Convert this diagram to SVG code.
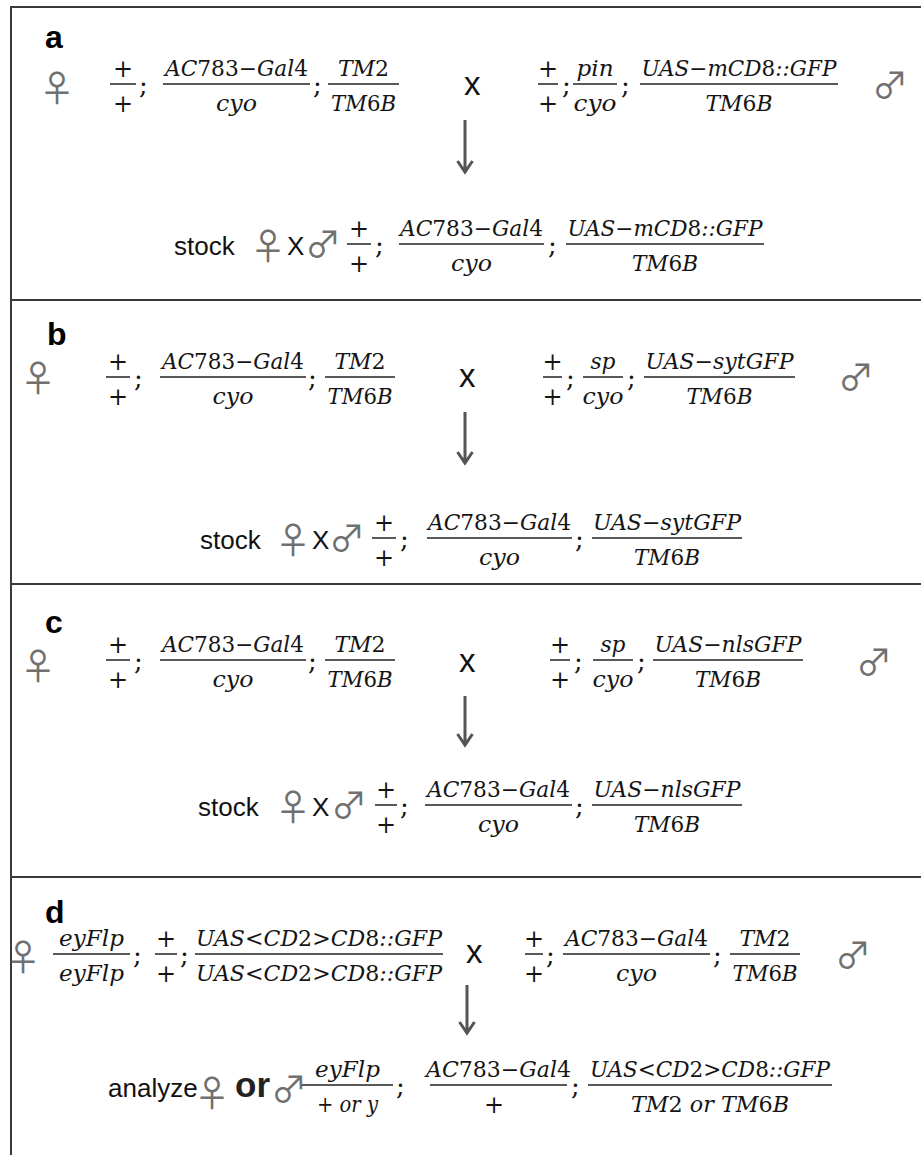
<svg xmlns="http://www.w3.org/2000/svg" width="921" height="1155" viewBox="0 0 921 1155">
<style>
.frame line{stroke:#3a3a3a;stroke-width:2}
.bar{stroke:#222;stroke-width:1.5}
.m{font-family:"DejaVu Serif","Liberation Serif",serif;font-style:italic;font-size:22px;fill:#151515;text-anchor:middle}
.n{font-style:normal}
.p{font-family:"DejaVu Serif","Liberation Serif",serif;font-size:24px;fill:#151515;text-anchor:middle}
.semi{font-family:"DejaVu Serif","Liberation Serif",serif;font-size:26px;fill:#151515}
.s{font-family:"Liberation Sans",Arial,sans-serif;fill:#111}
.x{font-size:33px}
.st{font-size:26px}
.or{font-size:35px;font-weight:bold;fill:#222}
.lbl{font-family:"Liberation Sans",Arial,sans-serif;font-weight:bold;font-size:32px;fill:#000}
.sym{font-family:"Noto Sans CJK JP","DejaVu Sans",sans-serif;font-size:36px;fill:#707070;text-anchor:middle;dominant-baseline:central}
.arr{stroke:#555;stroke-width:3;fill:none}
</style>
<rect width="921" height="1155" fill="#fff"/>
<g class="frame">
<line x1="11" y1="7" x2="921" y2="7"/>
<line x1="11" y1="6" x2="11" y2="1155"/>
<line x1="11" y1="300" x2="921" y2="300"/>
<line x1="11" y1="584" x2="921" y2="584"/>
<line x1="11" y1="877" x2="921" y2="877"/>
</g>

<g id="connectors">
<path class="arr" d="M465 120V171M457.5 161L465 172L472.5 161"/>
<path class="arr" d="M465 412V462M457.5 452L465 463L472.5 452"/>
<path class="arr" d="M465 696V744M457.5 734L465 745L472.5 734"/>
<path class="arr" d="M467 985V1032M459.5 1022L467 1033L474.5 1022"/>
</g>

<!-- Panel a -->
<g id="panel-a">
<text class="lbl" x="45" y="48">a</text>
<g id="a-female">
<text class="sym" x="57" y="86">♀</text>
<line class="bar" x1="110" y1="84" x2="136" y2="84"/>
<text class="p" x="123" y="77">+</text>
<text class="p" x="123" y="112">+</text>
<text class="semi" x="139" y="94">;</text>
<line class="bar" x1="163" y1="84" x2="310" y2="84"/>
<text class="m" x="236.5" y="76" textLength="143" lengthAdjust="spacingAndGlyphs">AC<tspan class="n">783−</tspan>Gal<tspan class="n">4</tspan></text>
<text class="m" x="236.5" y="111" textLength="41" lengthAdjust="spacingAndGlyphs">cyo</text>
<text class="semi" x="313" y="94">;</text>
<line class="bar" x1="328" y1="84" x2="399" y2="84"/>
<text class="m" x="363.5" y="76">TM<tspan class="n">2</tspan></text>
<text class="m" x="363.5" y="111" textLength="65" lengthAdjust="spacingAndGlyphs">TM<tspan class="n">6</tspan>B</text>
</g>
<text id="a-cross" class="s x" x="464" y="95">x</text>
<g id="a-male">
<line class="bar" x1="538" y1="84" x2="558" y2="84"/>
<text class="p" x="548" y="77">+</text>
<text class="p" x="548" y="112">+</text>
<text class="semi" x="562" y="94">;</text>
<line class="bar" x1="573" y1="84" x2="617" y2="84"/>
<text class="m" x="595" y="76" textLength="37" lengthAdjust="spacingAndGlyphs">pin</text>
<text class="m" x="595" y="111" textLength="43" lengthAdjust="spacingAndGlyphs">cyo</text>
<text class="semi" x="621" y="94">;</text>
<line class="bar" x1="640" y1="84" x2="838" y2="84"/>
<text class="m" x="739" y="76" textLength="195" lengthAdjust="spacingAndGlyphs">UAS<tspan class="n">−</tspan>mCD<tspan class="n">8</tspan>::GFP</text>
<text class="m" x="739" y="111" textLength="67" lengthAdjust="spacingAndGlyphs">TM<tspan class="n">6</tspan>B</text>
<text class="sym" x="890" y="83">♂</text>
</g>
<g id="a-progeny">
<text class="s st" x="174" y="255">stock</text>
<text class="sym" x="268" y="244">♀</text>
<text class="s st" x="287" y="255">X</text>
<text class="sym" x="323" y="242">♂</text>
<line class="bar" x1="347" y1="244" x2="371" y2="244"/>
<text class="p" x="359" y="237">+</text>
<text class="p" x="359" y="272">+</text>
<text class="semi" x="375" y="254">;</text>
<line class="bar" x1="399" y1="244" x2="544" y2="244"/>
<text class="m" x="471.5" y="236" textLength="143" lengthAdjust="spacingAndGlyphs">AC<tspan class="n">783−</tspan>Gal<tspan class="n">4</tspan></text>
<text class="m" x="471.5" y="271" textLength="41" lengthAdjust="spacingAndGlyphs">cyo</text>
<text class="semi" x="548" y="254">;</text>
<line class="bar" x1="566" y1="244" x2="764" y2="244"/>
<text class="m" x="665" y="236" textLength="195" lengthAdjust="spacingAndGlyphs">UAS<tspan class="n">−</tspan>mCD<tspan class="n">8</tspan>::GFP</text>
<text class="m" x="665" y="271" textLength="66" lengthAdjust="spacingAndGlyphs">TM<tspan class="n">6</tspan>B</text>
</g>
</g>

<!-- Panel b -->
<g id="panel-b">
<text class="lbl" x="47" y="345">b</text>
<g id="b-female">
<text class="sym" x="38" y="376">♀</text>
<line class="bar" x1="106" y1="377" x2="130" y2="377"/>
<text class="p" x="118" y="370">+</text>
<text class="p" x="118" y="405">+</text>
<text class="semi" x="134" y="387">;</text>
<line class="bar" x1="160" y1="377" x2="306" y2="377"/>
<text class="m" x="233" y="369" textLength="142" lengthAdjust="spacingAndGlyphs">AC<tspan class="n">783−</tspan>Gal<tspan class="n">4</tspan></text>
<text class="m" x="233" y="404" textLength="41" lengthAdjust="spacingAndGlyphs">cyo</text>
<text class="semi" x="308" y="387">;</text>
<line class="bar" x1="325" y1="377" x2="395" y2="377"/>
<text class="m" x="360" y="369">TM<tspan class="n">2</tspan></text>
<text class="m" x="360" y="404" textLength="65" lengthAdjust="spacingAndGlyphs">TM<tspan class="n">6</tspan>B</text>
</g>
<text id="b-cross" class="s x" x="459" y="387">x</text>
<g id="b-male">
<line class="bar" x1="543" y1="377" x2="562" y2="377"/>
<text class="p" x="552.5" y="370">+</text>
<text class="p" x="552.5" y="405">+</text>
<text class="semi" x="566" y="387">;</text>
<line class="bar" x1="583" y1="377" x2="623" y2="377"/>
<text class="m" x="603" y="369" textLength="25" lengthAdjust="spacingAndGlyphs">sp</text>
<text class="m" x="603" y="404" textLength="41" lengthAdjust="spacingAndGlyphs">cyo</text>
<text class="semi" x="627" y="387">;</text>
<line class="bar" x1="644" y1="377" x2="795" y2="377"/>
<text class="m" x="719.5" y="369" textLength="148" lengthAdjust="spacingAndGlyphs">UAS<tspan class="n">−</tspan>sytGFP</text>
<text class="m" x="719.5" y="404" textLength="66" lengthAdjust="spacingAndGlyphs">TM<tspan class="n">6</tspan>B</text>
<text class="sym" x="856" y="375">♂</text>
</g>
<g id="b-progeny">
<text class="s st" x="200" y="549">stock</text>
<text class="sym" x="293" y="538">♀</text>
<text class="s st" x="312" y="549">X</text>
<text class="sym" x="347" y="536">♂</text>
<line class="bar" x1="372" y1="538" x2="396" y2="538"/>
<text class="p" x="384" y="531">+</text>
<text class="p" x="384" y="566">+</text>
<text class="semi" x="400" y="548">;</text>
<line class="bar" x1="427" y1="538" x2="572" y2="538"/>
<text class="m" x="499.5" y="530" textLength="143" lengthAdjust="spacingAndGlyphs">AC<tspan class="n">783−</tspan>Gal<tspan class="n">4</tspan></text>
<text class="m" x="499.5" y="565" textLength="41" lengthAdjust="spacingAndGlyphs">cyo</text>
<text class="semi" x="575" y="548">;</text>
<line class="bar" x1="592" y1="538" x2="742" y2="538"/>
<text class="m" x="667" y="530" textLength="148" lengthAdjust="spacingAndGlyphs">UAS<tspan class="n">−</tspan>sytGFP</text>
<text class="m" x="667" y="565" textLength="66" lengthAdjust="spacingAndGlyphs">TM<tspan class="n">6</tspan>B</text>
</g>
</g>

<!-- Panel c -->
<g id="panel-c">
<text class="lbl" x="45" y="633">c</text>
<g id="c-female">
<text class="sym" x="38" y="664">♀</text>
<line class="bar" x1="106" y1="660" x2="130" y2="660"/>
<text class="p" x="118" y="653">+</text>
<text class="p" x="118" y="688">+</text>
<text class="semi" x="134" y="670">;</text>
<line class="bar" x1="160" y1="660" x2="306" y2="660"/>
<text class="m" x="233" y="652" textLength="142" lengthAdjust="spacingAndGlyphs">AC<tspan class="n">783−</tspan>Gal<tspan class="n">4</tspan></text>
<text class="m" x="233" y="687" textLength="41" lengthAdjust="spacingAndGlyphs">cyo</text>
<text class="semi" x="308" y="670">;</text>
<line class="bar" x1="325" y1="660" x2="395" y2="660"/>
<text class="m" x="360" y="652">TM<tspan class="n">2</tspan></text>
<text class="m" x="360" y="687" textLength="65" lengthAdjust="spacingAndGlyphs">TM<tspan class="n">6</tspan>B</text>
</g>
<text id="c-cross" class="s x" x="459" y="672">x</text>
<g id="c-male">
<line class="bar" x1="550" y1="660" x2="570" y2="660"/>
<text class="p" x="560" y="653">+</text>
<text class="p" x="560" y="688">+</text>
<text class="semi" x="574" y="670">;</text>
<line class="bar" x1="593" y1="660" x2="633" y2="660"/>
<text class="m" x="613" y="652" textLength="25" lengthAdjust="spacingAndGlyphs">sp</text>
<text class="m" x="613" y="687" textLength="41" lengthAdjust="spacingAndGlyphs">cyo</text>
<text class="semi" x="637" y="670">;</text>
<line class="bar" x1="653" y1="660" x2="803" y2="660"/>
<text class="m" x="728" y="652" textLength="147" lengthAdjust="spacingAndGlyphs">UAS<tspan class="n">−</tspan>nlsGFP</text>
<text class="m" x="728" y="687" textLength="66" lengthAdjust="spacingAndGlyphs">TM<tspan class="n">6</tspan>B</text>
<text class="sym" x="874" y="660">♂</text>
</g>
<g id="c-progeny">
<text class="s st" x="198" y="816">stock</text>
<text class="sym" x="293" y="805">♀</text>
<text class="s st" x="312" y="816">X</text>
<text class="sym" x="349" y="803">♂</text>
<line class="bar" x1="375" y1="805" x2="397" y2="805"/>
<text class="p" x="386" y="798">+</text>
<text class="p" x="386" y="833">+</text>
<text class="semi" x="400" y="815">;</text>
<line class="bar" x1="425" y1="805" x2="572" y2="805"/>
<text class="m" x="498.5" y="797" textLength="143" lengthAdjust="spacingAndGlyphs">AC<tspan class="n">783−</tspan>Gal<tspan class="n">4</tspan></text>
<text class="m" x="498.5" y="832" textLength="41" lengthAdjust="spacingAndGlyphs">cyo</text>
<text class="semi" x="575" y="815">;</text>
<line class="bar" x1="592" y1="805" x2="742" y2="805"/>
<text class="m" x="667" y="797" textLength="147" lengthAdjust="spacingAndGlyphs">UAS<tspan class="n">−</tspan>nlsGFP</text>
<text class="m" x="667" y="832" textLength="66" lengthAdjust="spacingAndGlyphs">TM<tspan class="n">6</tspan>B</text>
</g>
</g>

<!-- Panel d -->
<g id="panel-d">
<text class="lbl" x="45" y="923">d</text>
<g id="d-female">
<text class="sym" x="23" y="955">♀</text>
<line class="bar" x1="53" y1="954" x2="130" y2="954"/>
<text class="m" x="91.5" y="946" textLength="65" lengthAdjust="spacingAndGlyphs">eyFlp</text>
<text class="m" x="91.5" y="981" textLength="65" lengthAdjust="spacingAndGlyphs">eyFlp</text>
<text class="semi" x="133" y="964">;</text>
<line class="bar" x1="155" y1="954" x2="177" y2="954"/>
<text class="p" x="166" y="947">+</text>
<text class="p" x="166" y="982">+</text>
<text class="semi" x="180" y="964">;</text>
<line class="bar" x1="195" y1="954" x2="443" y2="954"/>
<text class="m" x="319" y="946" textLength="246" lengthAdjust="spacingAndGlyphs">UAS<tspan class="n">&lt;</tspan>CD<tspan class="n">2&gt;</tspan>CD<tspan class="n">8</tspan>::GFP</text>
<text class="m" x="319" y="981" textLength="246" lengthAdjust="spacingAndGlyphs">UAS<tspan class="n">&lt;</tspan>CD<tspan class="n">2&gt;</tspan>CD<tspan class="n">8</tspan>::GFP</text>
</g>
<text id="d-cross" class="s x" x="466" y="963">x</text>
<g id="d-male">
<line class="bar" x1="525" y1="954" x2="543" y2="954"/>
<text class="p" x="534" y="947">+</text>
<text class="p" x="534" y="982">+</text>
<text class="semi" x="546" y="964">;</text>
<line class="bar" x1="563" y1="954" x2="710" y2="954"/>
<text class="m" x="636.5" y="946" textLength="143" lengthAdjust="spacingAndGlyphs">AC<tspan class="n">783−</tspan>Gal<tspan class="n">4</tspan></text>
<text class="m" x="636.5" y="981" textLength="41" lengthAdjust="spacingAndGlyphs">cyo</text>
<text class="semi" x="713" y="964">;</text>
<line class="bar" x1="730" y1="954" x2="800" y2="954"/>
<text class="m" x="765" y="946">TM<tspan class="n">2</tspan></text>
<text class="m" x="765" y="981" textLength="65" lengthAdjust="spacingAndGlyphs">TM<tspan class="n">6</tspan>B</text>
<text class="sym" x="853" y="953">♂</text>
</g>
<g id="d-progeny">
<text class="s st" x="108" y="1097">analyze</text>
<text class="sym" x="212" y="1091">♀</text>
<text class="s or" x="235" y="1097">or</text>
<text class="sym" x="289" y="1087">♂</text>
<line class="bar" x1="302" y1="1085" x2="393" y2="1085"/>
<text class="m" x="347.5" y="1077" textLength="65" lengthAdjust="spacingAndGlyphs">eyFlp</text>
<text class="m" x="347.5" y="1112" textLength="61" lengthAdjust="spacingAndGlyphs"><tspan class="n">+</tspan> or y</text>
<text class="semi" x="396" y="1095">;</text>
<line class="bar" x1="430" y1="1085" x2="567" y2="1085"/>
<text class="m" x="498.5" y="1077" font-size="20.5">AC<tspan class="n">783−</tspan>Gal<tspan class="n">4</tspan></text>
<text class="p" x="494" y="1113">+</text>
<text class="semi" x="571" y="1095">;</text>
<line class="bar" x1="588" y1="1085" x2="832" y2="1085"/>
<text class="m" x="710" y="1077" textLength="240" lengthAdjust="spacingAndGlyphs">UAS<tspan class="n">&lt;</tspan>CD<tspan class="n">2&gt;</tspan>CD<tspan class="n">8</tspan>::GFP</text>
<text class="m" x="710" y="1112" textLength="158" lengthAdjust="spacingAndGlyphs">TM<tspan class="n">2</tspan> or TM<tspan class="n">6</tspan>B</text>
</g>
</g>
</svg>
